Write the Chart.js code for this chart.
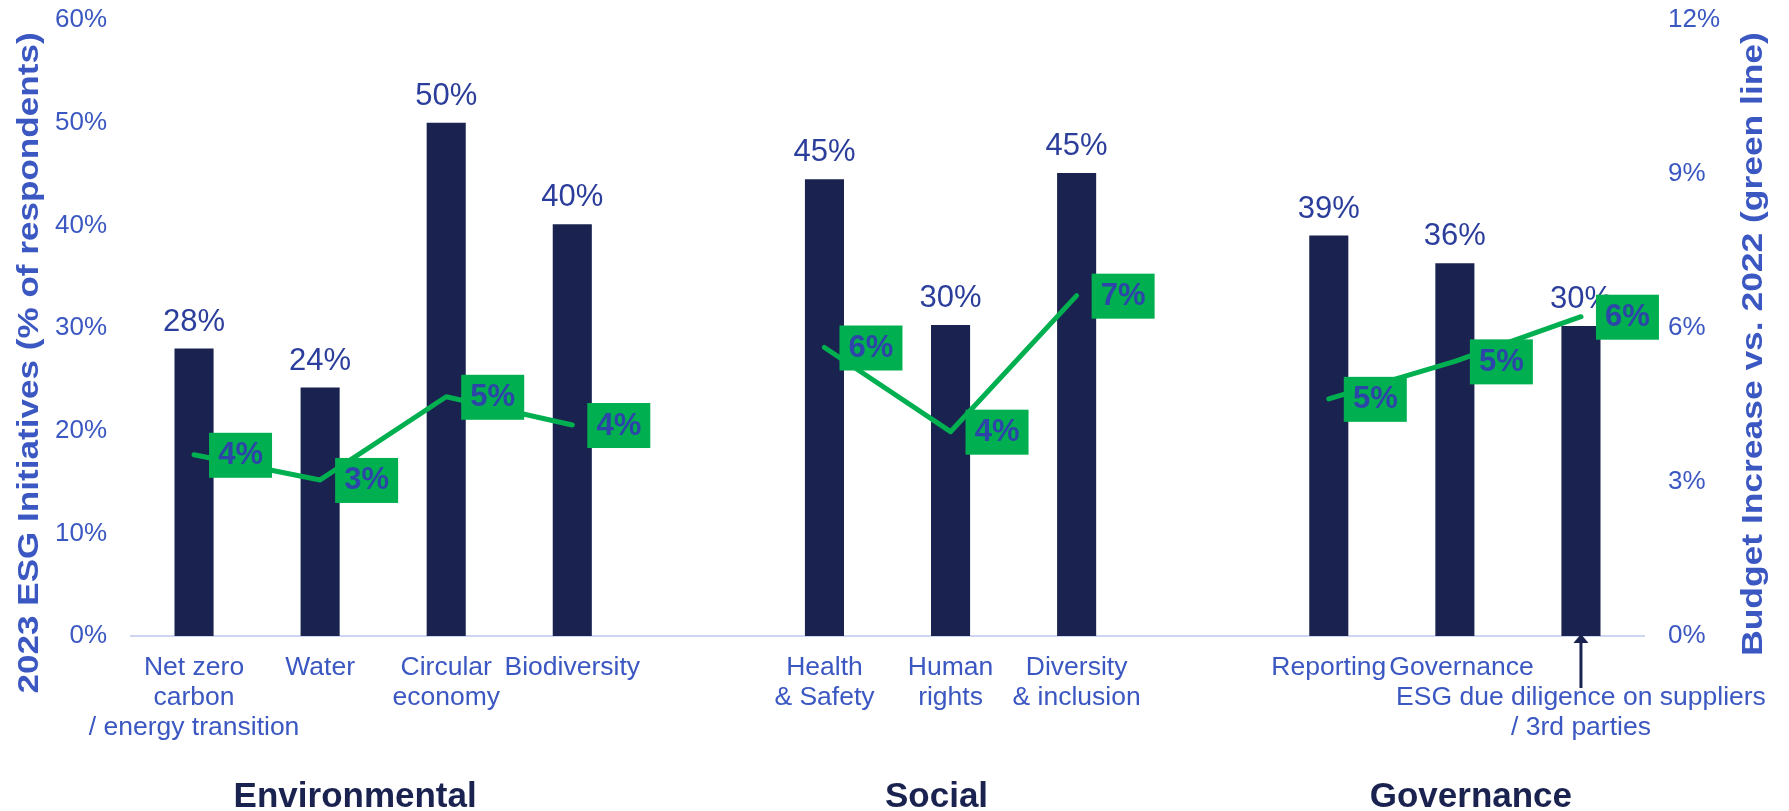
<!DOCTYPE html>
<html>
<head>
<meta charset="utf-8">
<script src="https://cdn.jsdelivr.net/npm/chart.js@4"></script>
<style>
  body { margin: 0; background: #fff; }
</style>
</head>
<body>
<canvas id="esgChart" width="1789" height="811"></canvas>
<script>
// Category slots (empty strings leave a gap between the E, S and G groups)
const categories = [
    ['Net zero', 'carbon', '/ energy transition'],
    'Water',
    ['Circular', 'economy'],
    'Biodiversity',
    '',
    ['Health', '& Safety'],
    ['Human', 'rights'],
    ['Diversity', '& inclusion'],
    '',
    'Reporting',
    '\u2002Governance',
    ['', 'ESG due diligence on suppliers', '/ 3rd parties']
];

// 2023 ESG initiatives, % of respondents (bars, left axis)
const initiatives = [28, 24.2, 50, 40.1, null, 44.5, 30.3, 45.1, null, 39, 36.3, 30.2];

// Budget increase vs. 2022, % (green line, right axis)
const budgetIncrease = [3.53, 3.04, 4.66, 4.11, null, 5.62, 3.98, 6.63, null, 4.62, 5.35, 6.22];

// Group captions under the axis and the category spans they cover
const groupNames = ['Environmental', 'Social', 'Governance'];
const groupSpans = [[0, 3], [5, 7], [9, 11]];

const leftTicks = [0, 10, 20, 30, 40, 50, 60];
const rightTicks = [0, 3, 6, 9, 12];

const FONT = '"Liberation Sans", Arial, sans-serif';
const NAVY = '#1A2350';
const BLUE = '#3B57C1';
const GREEN = '#00B050';

function drawStretched(ctx, text, x, y, angle, stretch) {
    ctx.save();
    ctx.translate(x, y);
    ctx.rotate(angle);
    ctx.scale(stretch, 1);
    ctx.fillText(text, 0, 0);
    ctx.restore();
}

// fixed axis sizes so the plot area lands where the original has it
function fitSide(width) {
    return function (scale) {
        scale.width = width;
        scale.paddingTop = 0;
        scale.paddingBottom = 0;
    };
}

const overlayPlugin = {
    id: 'overlay',
    afterDatasetsDraw(chart) {
        const ctx = chart.ctx;
        const area = chart.chartArea;
        const xScale = chart.scales.x;
        const barMeta = chart.getDatasetMeta(0);
        const lineMeta = chart.getDatasetMeta(1);

        ctx.save();

        // value labels above the bars
        ctx.font = '31px ' + FONT;
        ctx.fillStyle = '#2C3E9B';
        ctx.textAlign = 'center';
        ctx.textBaseline = 'alphabetic';
        barMeta.data.forEach((bar, i) => {
            if (initiatives[i] == null) return;
            ctx.fillText(Math.round(initiatives[i]) + '%', bar.x, bar.y - 18);
        });

        // green boxes next to the line points
        lineMeta.data.forEach((pt, i) => {
            if (budgetIncrease[i] == null) return;
            const left = pt.x + 15;
            ctx.fillStyle = GREEN;
            ctx.fillRect(left, pt.y - 22, 63, 45);
            ctx.fillStyle = '#2D45A8';
            ctx.font = 'bold 31px ' + FONT;
            ctx.textBaseline = 'middle';
            ctx.fillText(Math.round(budgetIncrease[i]) + '%', left + 31.5, pt.y + 1);
        });

        // group captions
        const nudge = [-28, -14, 16];
        ctx.font = 'bold 35px ' + FONT;
        ctx.fillStyle = NAVY;
        ctx.textBaseline = 'middle';
        groupSpans.forEach((span, g) => {
            const cx = (xScale.getPixelForTick(span[0]) + xScale.getPixelForTick(span[1])) / 2 + nudge[g];
            ctx.fillText(groupNames[g], cx, area.bottom + 161);
        });

        // arrow from the shifted ESG label up to its bar
        const arrowIdx = categories.findIndex(c => Array.isArray(c) && c[0] === '');
        const ax = xScale.getPixelForTick(arrowIdx);
        ctx.strokeStyle = NAVY;
        ctx.fillStyle = NAVY;
        ctx.lineWidth = 3;
        ctx.beginPath();
        ctx.moveTo(ax, area.bottom + 6);
        ctx.lineTo(ax, area.bottom + 52);
        ctx.stroke();
        ctx.beginPath();
        ctx.moveTo(ax, area.bottom - 2);
        ctx.lineTo(ax - 7.5, area.bottom + 7);
        ctx.lineTo(ax + 7.5, area.bottom + 7);
        ctx.closePath();
        ctx.fill();

        // axis titles (both read bottom to top)
        const midY = (area.top + area.bottom) / 2;
        ctx.font = 'bold 30px ' + FONT;
        ctx.fillStyle = BLUE;
        ctx.textAlign = 'center';
        ctx.textBaseline = 'middle';
        drawStretched(ctx, '2023 ESG Initiatives (% of respondents)', 30, midY + 35, -Math.PI / 2, 1.17);
        drawStretched(ctx, 'Budget Increase vs. 2022 (green line)', chart.width - 35, midY + 16, -Math.PI / 2, 1.18);

        ctx.restore();
    }
};

const ctx = document.getElementById('esgChart').getContext('2d');

new Chart(ctx, {
    type: 'bar',
    data: {
        labels: categories,
        datasets: [
            {
                type: 'bar',
                label: '2023 ESG Initiatives',
                data: initiatives,
                backgroundColor: NAVY,
                barPercentage: 0.31,
                categoryPercentage: 1,
                yAxisID: 'y',
                order: 1
            },
            {
                type: 'line',
                label: 'Budget Increase vs. 2022',
                data: budgetIncrease,
                borderColor: GREEN,
                borderWidth: 5,
                borderCapStyle: 'round',
                borderJoinStyle: 'round',
                pointRadius: 0,
                tension: 0,
                spanGaps: false,
                yAxisID: 'y1',
                order: 0
            }
        ]
    },
    options: {
        responsive: false,
        animation: false,
        layout: { padding: { top: 20, left: 0, right: 0, bottom: 0 } },
        plugins: {
            legend: { display: false },
            tooltip: { enabled: false }
        },
        scales: {
            x: {
                grid: { display: false, drawTicks: false },
                border: { display: true, color: '#CDD5F0', width: 2 },
                ticks: {
                    autoSkip: false,
                    maxRotation: 0,
                    minRotation: 0,
                    padding: 17,
                    color: BLUE,
                    font: { family: FONT, size: 26.5, lineHeight: 1.13 }
                },
                afterFit(scale) { scale.height = 175; }
            },
            y: {
                position: 'left',
                min: 0,
                max: 60,
                grid: { display: false, drawTicks: false },
                border: { display: false },
                afterBuildTicks(scale) { scale.ticks = leftTicks.map(v => ({ value: v })); },
                ticks: {
                    padding: 24,
                    color: BLUE,
                    font: { family: FONT, size: 26 },
                    callback: v => v + '%'
                },
                afterFit: fitSide(131)
            },
            y1: {
                position: 'right',
                min: 0,
                max: 12,
                grid: { display: false, drawTicks: false },
                border: { display: false },
                afterBuildTicks(scale) { scale.ticks = rightTicks.map(v => ({ value: v })); },
                ticks: {
                    padding: 24,
                    color: BLUE,
                    font: { family: FONT, size: 26 },
                    callback: v => v + '%'
                },
                afterFit: fitSide(145)
            }
        }
    },
    plugins: [overlayPlugin]
});
</script>
</body>
</html>
